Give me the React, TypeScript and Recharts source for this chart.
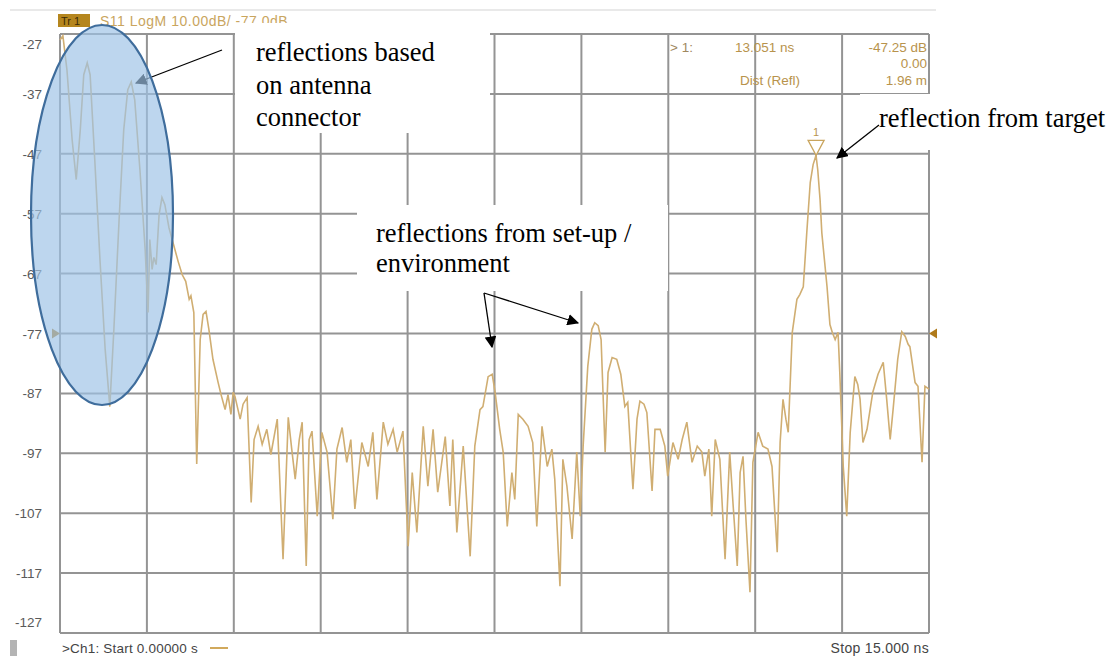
import React from 'react'
import {
  CartesianGrid,
  Line,
  LineChart,
  ReferenceDot,
  XAxis,
  YAxis,
} from 'recharts'

// time axis of the S11 time-domain trace (ns)
const TIME_NS = [
  0.0, 0.05, 0.12, 0.21, 0.28, 0.35, 0.41, 0.47, 0.52, 0.6,
  0.69, 0.78, 0.86, 0.93, 1.02, 1.1, 1.17, 1.23, 1.29, 1.38,
  1.47, 1.52, 1.55, 1.59, 1.62, 1.66, 1.71, 1.76, 1.81, 1.88,
  1.95, 2.04, 2.11, 2.17, 2.23, 2.26, 2.31, 2.36, 2.42, 2.47,
  2.52, 2.57, 2.64, 2.73, 2.78, 2.85, 2.9, 2.95, 2.99, 3.02,
  3.11, 3.16, 3.23, 3.3, 3.35, 3.42, 3.49, 3.57, 3.64, 3.75,
  3.85, 3.94, 4.0, 4.06, 4.13, 4.18, 4.25, 4.3, 4.35, 4.44,
  4.52, 4.61, 4.71, 4.78, 4.87, 4.95, 5.02, 5.09, 5.21, 5.32,
  5.4, 5.47, 5.58, 5.66, 5.75, 5.82, 5.92, 6.01, 6.08, 6.16,
  6.27, 6.35, 6.44, 6.52, 6.65, 6.73, 6.78, 6.85, 6.96, 7.08,
  7.16, 7.25, 7.3, 7.39, 7.46, 7.51, 7.59, 7.65, 7.72, 7.8,
  7.85, 7.91, 7.99, 8.08, 8.16, 8.23, 8.32, 8.41, 8.49, 8.54,
  8.63, 8.68, 8.75, 8.84, 8.92, 8.98, 9.03, 9.11, 9.18, 9.23,
  9.29, 9.34, 9.41, 9.46, 9.53, 9.61, 9.68, 9.75, 9.8, 9.89,
  9.96, 10.01, 10.08, 10.13, 10.22, 10.27, 10.36, 10.44, 10.49, 10.58,
  10.67, 10.74, 10.82, 10.91, 11.0, 11.08, 11.13, 11.2, 11.25, 11.31,
  11.39, 11.48, 11.56, 11.62, 11.69, 11.74, 11.79, 11.84, 11.91, 11.96,
  12.05, 12.13, 12.22, 12.29, 12.38, 12.43, 12.48, 12.53, 12.57, 12.64,
  12.72, 12.77, 12.83, 12.89, 12.95, 13.0, 13.05, 13.08, 13.12, 13.15,
  13.24, 13.29, 13.33, 13.38, 13.43, 13.46, 13.52, 13.58, 13.64, 13.72,
  13.77, 13.81, 13.86, 13.93, 14.03, 14.12, 14.21, 14.27, 14.33, 14.38,
  14.46, 14.53, 14.59, 14.64, 14.67, 14.76, 14.81, 14.88, 14.93, 15.0,
]

// S11 log magnitude (dB)
const S11_DB = [
  -28.0, -27.3, -33.0, -44.7, -51.3, -43.0, -33.8, -31.8, -33.8, -48.0,
  -64.7, -79.7, -89.2, -76.3, -58.0, -43.0, -36.3, -35.0, -38.0, -49.7,
  -63.0, -73.5, -61.3, -66.3, -64.3, -65.5, -57.2, -54.3, -55.5, -59.3,
  -61.8, -65.0, -67.2, -68.3, -71.3, -70.7, -73.5, -98.8, -78.0, -73.8,
  -73.3, -76.3, -81.3, -85.2, -87.2, -89.7, -87.2, -90.5, -86.8, -87.5,
  -91.3, -88.8, -87.7, -105.2, -94.7, -92.5, -95.5, -93.0, -97.2, -91.3,
  -114.7, -91.0, -96.3, -101.3, -94.7, -91.8, -115.8, -94.7, -93.3, -107.5,
  -93.5, -96.8, -108.0, -96.3, -92.7, -98.5, -94.7, -106.3, -95.2, -99.2,
  -93.5, -104.7, -91.8, -95.5, -93.0, -96.8, -93.3, -112.5, -100.2, -110.2,
  -92.5, -102.5, -93.0, -103.5, -94.2, -105.8, -94.7, -110.2, -95.8, -114.2,
  -95.8, -89.7, -89.2, -84.2, -83.8, -86.8, -93.0, -96.8, -109.2, -100.2,
  -104.7, -90.5, -91.3, -92.5, -95.2, -109.2, -92.5, -99.2, -96.3, -101.3,
  -119.2, -98.0, -102.5, -111.3, -96.8, -107.5, -95.8, -82.5, -76.3, -75.2,
  -75.7, -78.0, -96.8, -83.5, -81.0, -81.3, -83.8, -89.2, -88.5, -103.0,
  -91.3, -88.3, -88.8, -90.2, -103.3, -93.0, -93.0, -95.8, -100.8, -95.2,
  -98.0, -94.7, -91.8, -98.5, -95.8, -96.8, -100.8, -96.3, -107.5, -94.7,
  -98.0, -114.7, -96.8, -105.8, -115.8, -100.2, -97.5, -108.0, -120.2, -98.5,
  -93.5, -95.8, -96.3, -99.2, -113.5, -95.2, -88.0, -91.3, -93.5, -76.8,
  -71.3, -70.5, -69.2, -60.2, -51.8, -48.8, -47.25, -49.7, -54.7, -60.2,
  -69.2, -75.5, -76.8, -78.0, -76.8, -83.5, -99.2, -107.5, -93.5, -84.2,
  -85.5, -88.0, -95.2, -93.0, -86.8, -83.8, -81.8, -88.0, -94.7, -89.7,
  -81.3, -76.7, -77.5, -78.8, -79.2, -85.2, -85.8, -98.5, -85.8, -86.3,
]

const Y_TICKS = [-27, -37, -47, -57, -67, -77, -87, -97, -107, -117, -127]
const X_TICKS = [0, 1.5, 3, 4.5, 6, 7.5, 9, 10.5, 12, 13.5, 15]

const REF_LEVEL_DB = -77
const MARKER_NS = 13.051
const MARKER_DB = -47.25

const HEADER = 'S11 LogM 10.00dB/ -77.0dB'
const READOUT = { id: '> 1:', time: '13.051  ns', value: '-47.25 dB', delta: '0.00', dist: 'Dist (Refl)', distValue: '1.96 m' }
const FOOTER_START = '>Ch1:  Start  0.00000 s'
const FOOTER_STOP = 'Stop  15.000 ns'

const ANNOT_CONNECTOR = ['reflections based', 'on antenna', 'connector']
const ANNOT_SETUP = ['reflections from set-up /', 'environment']
const ANNOT_TARGET = 'reflection from target'

const data = TIME_NS.map((t, i) => ({ t, db: S11_DB[i] }))

const TRACE = '#d0ae72'
const GRID = '#949494'
const SERIF = '"Liberation Serif", "Times New Roman", serif'
const SANS = '"Liberation Sans", Arial, sans-serif'

const YTick = (props: any) => {
  const { x, y, payload } = props
  let dy = 5
  if (payload.value === -27) dy = 15
  if (payload.value === -127) dy = -6
  return (
    <text x={x} y={y + dy} textAnchor="end" fontSize={13.5} fontFamily={SANS} fill="#5a5a5a">
      {payload.value}
    </text>
  )
}

const MarkerShape = (props: any) => {
  const { cx, cy } = props
  return (
    <g>
      <polygon
        points={`${cx - 8},${cy - 15} ${cx + 8},${cy - 15} ${cx},${cy}`}
        fill="#fff"
        stroke="#c9a55e"
        strokeWidth={1.3}
      />
      <text x={cx} y={cy - 19} textAnchor="middle" fontSize={11} fontFamily={SANS} fill="#b89550">
        1
      </text>
    </g>
  )
}

const RefLeft = (props: any) => {
  const { cx, cy } = props
  return <polygon points={`${cx - 8},${cy - 5} ${cx},${cy} ${cx - 8},${cy + 5}`} fill="#b07a1a" />
}

const RefRight = (props: any) => {
  const { cx, cy } = props
  return <polygon points={`${cx + 8},${cy - 5} ${cx},${cy} ${cx + 8},${cy + 5}`} fill="#b07a1a" />
}

const Overlay = () => (
  <svg
    width={1112}
    height={659}
    style={{ position: 'absolute', left: 0, top: 0, pointerEvents: 'none' }}
  >
    <defs>
      <marker id="arrowBlack" viewBox="0 0 10 10" refX="9" refY="5" markerWidth="9" markerHeight="9" orient="auto-start-reverse">
        <path d="M0,0 L10,5 L0,10 z" fill="#000" />
      </marker>
    </defs>

    {/* faint frame line above header */}
    <line x1={10} y1={10} x2={936} y2={10} stroke="#e2e2e2" strokeWidth={1.5} />

    {/* header */}
    <rect x={58} y={14} width={32} height={13} fill="#b5861e" />
    <text x={61} y={25} fontSize={11} fontFamily={SANS} fill="#3b2a05">Tr 1</text>
    <text x={100} y={26} fontSize={14} fontFamily={SANS} fill="#c9a55e" letterSpacing={0.5}>
      {HEADER}
    </text>

    {/* marker readout */}
    <g fontFamily={SANS} fontSize={13.5} fill="#b8934c">
      <text x={670} y={52} fill="#a08860">{READOUT.id}</text>
      <text x={735} y={52}>{READOUT.time}</text>
      <text x={927} y={52} textAnchor="end">{READOUT.value}</text>
      <text x={927} y={68} textAnchor="end">{READOUT.delta}</text>
      <text x={740} y={85}>{READOUT.dist}</text>
      <text x={927} y={85} textAnchor="end">{READOUT.distValue}</text>
    </g>

    {/* footer */}
    <rect x={10} y={640} width={7} height={16} fill="#b4b4b4" />
    <text x={62} y={653} fontSize={13.5} fontFamily={SANS} fill="#444" letterSpacing={0.2}>{FOOTER_START}</text>
    <line x1={210} y1={648} x2={228} y2={648} stroke="#d1a95c" strokeWidth={2} />
    <text x={929} y={653} textAnchor="end" fontSize={14} fontFamily={SANS} fill="#444" letterSpacing={0.3}>{FOOTER_STOP}</text>

    {/* annotation: antenna connector */}
    <rect x={235} y={23} width={255} height={110} fill="#fff" />
    <g fontFamily={SERIF} fontSize={26.5} fill="#000">
      {ANNOT_CONNECTOR.map((s, i) => (
        <text key={s} x={256} y={61 + i * 32.5}>{s}</text>
      ))}
    </g>
    <line x1={222} y1={50} x2={136} y2={83} stroke="#000" strokeWidth={1.3} markerEnd="url(#arrowBlack)" />

    {/* annotation: set-up / environment */}
    <rect x={357} y={205} width={311} height={86} fill="#fff" />
    <g fontFamily={SERIF} fontSize={26.5} fill="#000">
      {ANNOT_SETUP.map((s, i) => (
        <text key={s} x={376} y={242 + i * 30}>{s}</text>
      ))}
    </g>
    <line x1={484} y1={293} x2={492} y2={347} stroke="#000" strokeWidth={1.3} markerEnd="url(#arrowBlack)" />
    <line x1={484} y1={293} x2={578} y2={323} stroke="#000" strokeWidth={1.3} markerEnd="url(#arrowBlack)" />

    {/* annotation: target */}
    <rect x={860} y={94} width={252} height={56} fill="#fff" />
    <text x={879} y={127} fontFamily={SERIF} fontSize={26.5} fill="#000">{ANNOT_TARGET}</text>
    <line x1={879} y1={125} x2={837} y2={158} stroke="#000" strokeWidth={1.3} markerEnd="url(#arrowBlack)" />

    {/* highlight ellipse */}
    <ellipse cx={102} cy={215} rx={71} ry={190} fill="#9dc3e6" fillOpacity={0.68} stroke="#3f6d9c" strokeWidth={2.2} />
  </svg>
)

export default function App() {
  return (
    <div style={{ position: 'absolute', left: 0, top: 0, width: 1112, height: 659, background: '#fff' }}>
      <LineChart width={1112} height={659} data={data} margin={{ top: 34, right: 183, bottom: 26, left: 10 }}>
        <CartesianGrid stroke={GRID} strokeWidth={2} horizontal vertical />
        <XAxis dataKey="t" type="number" domain={[0, 15]} ticks={X_TICKS} hide />
        <YAxis
          type="number"
          domain={[-127, -27]}
          ticks={Y_TICKS}
          width={50}
          axisLine={false}
          tickLine={false}
          tickSize={0}
          tickMargin={18}
          tick={<YTick />}
          allowDataOverflow
        />
        <Line
          type="linear"
          dataKey="db"
          stroke={TRACE}
          strokeWidth={1.6}
          dot={false}
          isAnimationActive={false}
        />
        <ReferenceDot x={0} y={REF_LEVEL_DB} ifOverflow="visible" shape={<RefLeft />} />
        <ReferenceDot x={15} y={REF_LEVEL_DB} ifOverflow="visible" shape={<RefRight />} />
        <ReferenceDot x={MARKER_NS} y={MARKER_DB} ifOverflow="visible" shape={<MarkerShape />} />
      </LineChart>
      <Overlay />
    </div>
  )
}
